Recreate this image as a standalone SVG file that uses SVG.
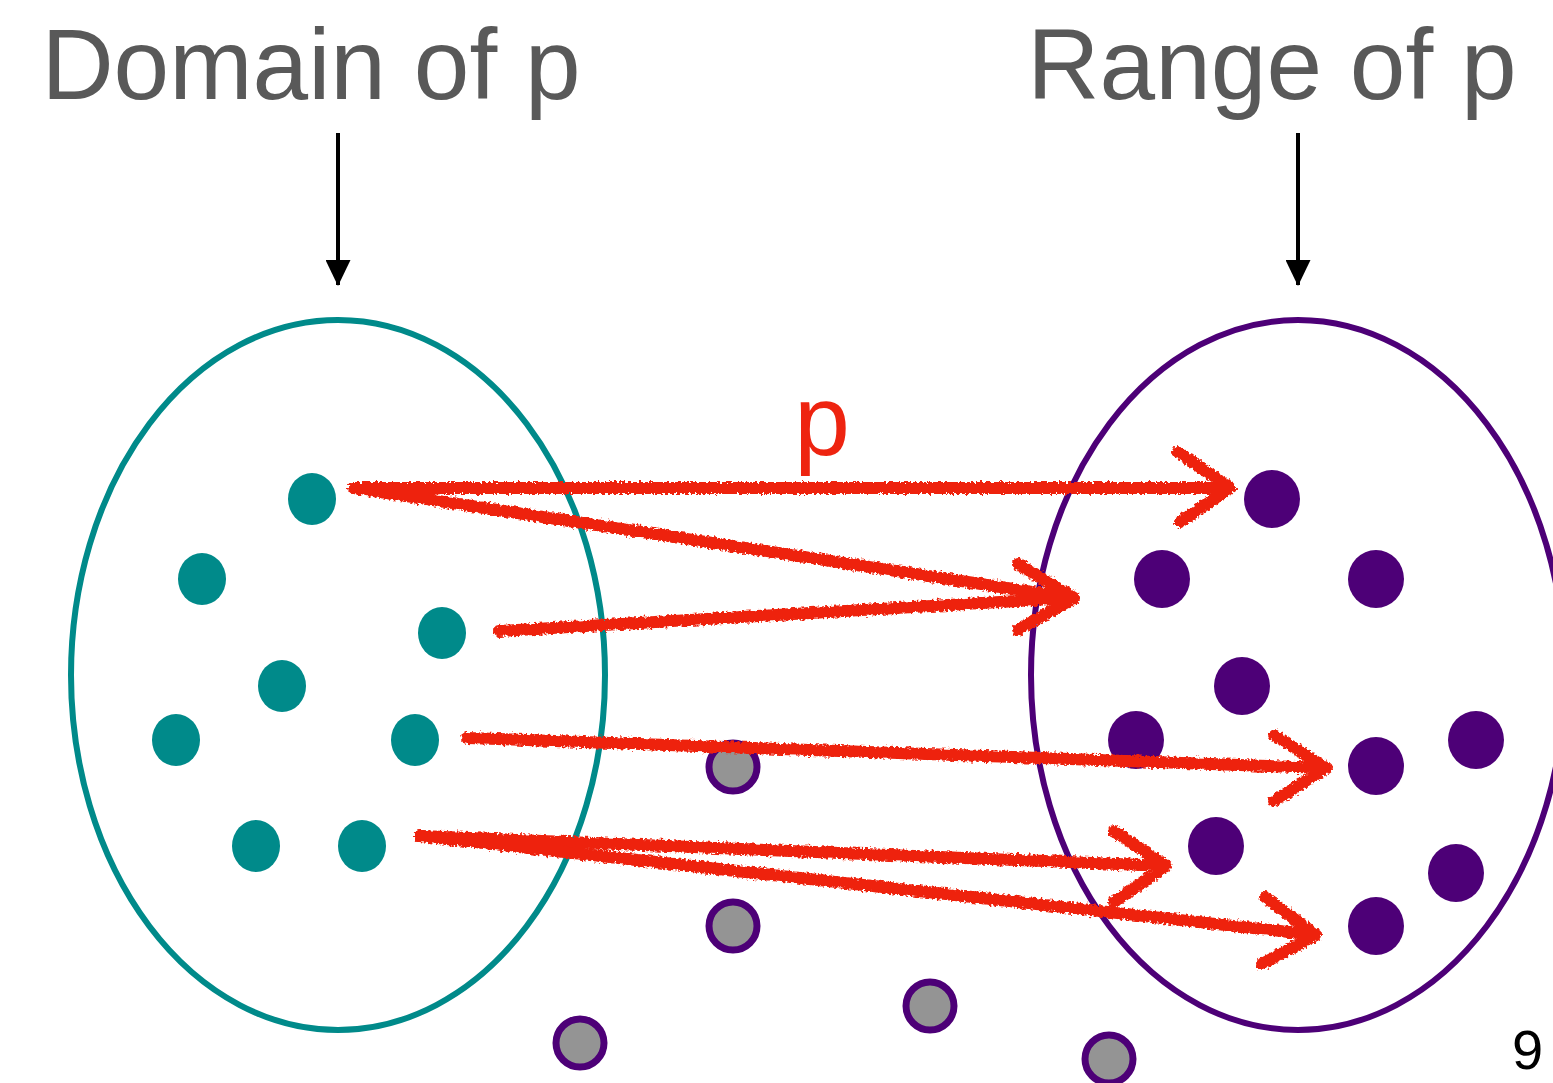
<svg xmlns="http://www.w3.org/2000/svg" width="1553" height="1083" viewBox="0 0 1553 1083">
<style>
.title{font-family:"Liberation Sans",Arial,sans-serif;font-size:100px;fill:#595959}
.teal{fill:#008a8a}
.purp{fill:#4d0077}
.grey{fill:#949494;stroke:#4d0077;stroke-width:7}
.red{fill:none;stroke:#ee2410;stroke-width:12;stroke-linecap:round;stroke-linejoin:round}
.ptr{stroke:#000;stroke-width:4}
</style>
<defs>
<marker id="bh" viewBox="0 0 26 25" refX="25" refY="12.5" markerWidth="26" markerHeight="25" orient="auto" markerUnits="userSpaceOnUse">
<path d="M0,0 L26,12.5 L0,25 Z" fill="#000"/>
</marker>
<filter id="crayon" x="-5%" y="-20%" width="110%" height="140%">
<feTurbulence type="fractalNoise" baseFrequency="0.35" numOctaves="2" seed="3" result="n"/>
<feDisplacementMap in="SourceGraphic" in2="n" scale="6" xChannelSelector="R" yChannelSelector="G"/>
</filter>
</defs>
<text class="title" x="311" y="99" text-anchor="middle">Domain of p</text>
<text class="title" x="1272" y="99" text-anchor="middle">Range of p</text>
<g id="pointers">
<line class="ptr" x1="338" y1="133" x2="338" y2="285" marker-end="url(#bh)"/>
<line class="ptr" x1="1298" y1="133" x2="1298" y2="285" marker-end="url(#bh)"/>
</g>
<g id="domain">
<ellipse cx="338" cy="675" rx="267" ry="355" fill="none" stroke="#008a8a" stroke-width="6"/>
<ellipse class="teal" cx="312" cy="499" rx="24" ry="26"/>
<ellipse class="teal" cx="202" cy="579" rx="24" ry="26"/>
<ellipse class="teal" cx="442" cy="633" rx="24" ry="26"/>
<ellipse class="teal" cx="282" cy="686" rx="24" ry="26"/>
<ellipse class="teal" cx="176" cy="740" rx="24" ry="26"/>
<ellipse class="teal" cx="415" cy="740" rx="24" ry="26"/>
<ellipse class="teal" cx="256" cy="846" rx="24" ry="26"/>
<ellipse class="teal" cx="362" cy="846" rx="24" ry="26"/>
</g>
<g id="range">
<ellipse cx="1298" cy="675" rx="267" ry="355" fill="none" stroke="#4d0077" stroke-width="6"/>
<ellipse class="purp" cx="1272" cy="499" rx="28" ry="29"/>
<ellipse class="purp" cx="1162" cy="579" rx="28" ry="29"/>
<ellipse class="purp" cx="1376" cy="579" rx="28" ry="29"/>
<ellipse class="purp" cx="1242" cy="686" rx="28" ry="29"/>
<ellipse class="purp" cx="1136" cy="740" rx="28" ry="29"/>
<ellipse class="purp" cx="1476" cy="740" rx="28" ry="29"/>
<ellipse class="purp" cx="1376" cy="766" rx="28" ry="29"/>
<ellipse class="purp" cx="1216" cy="846" rx="28" ry="29"/>
<ellipse class="purp" cx="1456" cy="873" rx="28" ry="29"/>
<ellipse class="purp" cx="1376" cy="926" rx="28" ry="29"/>
</g>
<g id="outside">
<circle class="grey" cx="733" cy="767" r="24"/>
<circle class="grey" cx="733" cy="926" r="24"/>
<circle class="grey" cx="580" cy="1043" r="24"/>
<circle class="grey" cx="930" cy="1006" r="24"/>
<circle class="grey" cx="1109" cy="1059" r="24"/>
</g>
<g id="connectors" filter="url(#crayon)">
<path class="red" d="M354,488 L1228,488 M1178,452 L1230,488 L1180,522"/>
<path class="red" d="M354,488 L1072,598 M1018,564 L1074,598 L1018,630"/>
<path class="red" d="M499,631 L1070,598"/>
<path class="red" d="M467,738 L1326,768 M1274,735 L1326,768 L1274,801"/>
<path class="red" d="M420,836 L1166,866 M1114,831 L1166,866 L1114,902"/>
<path class="red" d="M420,836 L1316,935 M1265,897 L1316,935 L1262,964"/>
</g>
<text x="822" y="455" text-anchor="middle" font-family="Liberation Sans,Arial,sans-serif" font-size="100" fill="#ee2410">p</text>
<text x="1512" y="1069" font-family="Liberation Sans,Arial,sans-serif" font-size="56" fill="#000">9</text>
</svg>
